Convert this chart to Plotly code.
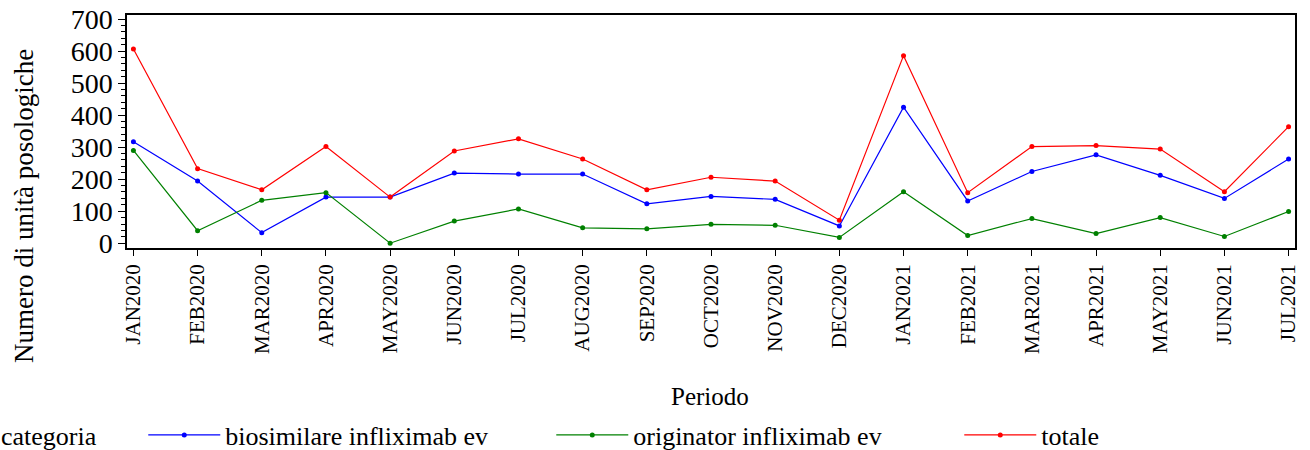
import plotly.graph_objects as go

periodi = ["JAN2020", "FEB2020", "MAR2020", "APR2020", "MAY2020", "JUN2020", "JUL2020",
           "AUG2020", "SEP2020", "OCT2020", "NOV2020", "DEC2020", "JAN2021", "FEB2021",
           "MAR2021", "APR2021", "MAY2021", "JUN2021", "JUL2021"]

biosimilare = [317, 194, 33, 144, 144, 219, 216, 216, 123, 146, 137, 54, 425, 132,
               224, 276, 212, 140, 263]
originator = [290, 39, 134, 158, 0, 69, 107, 48, 45, 59, 56, 18, 161, 24,
              77, 30, 80, 21, 99]
totale = [607, 233, 167, 302, 144, 288, 326, 263, 167, 206, 194, 72, 586, 158,
          302, 305, 294, 161, 364]

series = [
    ("biosimilare infliximab ev", biosimilare, "#0000ff"),
    ("originator infliximab ev", originator, "#008000"),
    ("totale", totale, "#ff0000"),
]

FONT = "Liberation Serif"

def f(size):
    return dict(family=FONT, size=size, color="black")

fig = go.Figure()
for name, vals, col in series:
    fig.add_trace(go.Scatter(
        x=periodi, y=vals, name=name, mode="lines+markers",
        line=dict(color=col, width=1.2),
        marker=dict(color=col, size=5, symbol="circle"),
    ))

W, H = 1310, 450
L, R, T, B = 127, 15, 15, 202
PW = W - L - R
PH = H - T - B
BOT = H - B

fig.update_layout(
    width=W, height=H,
    margin=dict(l=L, r=R, t=T, b=B, autoexpand=False),
    paper_bgcolor="white", plot_bgcolor="white",
    font=f(22),
    showlegend=True,
    legend=dict(
        orientation="h", x=(-1 - L) / PW, xanchor="left",
        y=-(435 - BOT) / PH, yanchor="middle",
        title=dict(text="categoria" + "\u00a0" * 6, side="left", font=f(26)),
        font=f(26), entrywidth=321, entrywidthmode="pixels",
        itemwidth=72, tracegroupgap=0, bgcolor="rgba(0,0,0,0)",
    ),
    xaxis=dict(
        type="category", range=[-0.1, 18.1], automargin=False,
        showline=True, linecolor="black", linewidth=1.5, mirror=True,
        ticks="outside", ticklen=6, tickcolor="black", tickwidth=1,
        tickangle=-90, tickfont=f(21), showgrid=False, zeroline=False,
        ticklabeloverflow="allow",
    ),
    yaxis=dict(
        range=[-15, 713], tickvals=[0, 100, 200, 300, 400, 500, 600, 700],
        automargin=False, ticklabeloverflow="allow",
        showline=True, linecolor="black", linewidth=1.5, mirror=True,
        ticks="outside", ticklen=7, tickcolor="black", tickwidth=1,
        minor=dict(dtick=20, ticks="outside", ticklen=4, tickcolor="black"),
        tickfont=f(28), showgrid=False, zeroline=False,
    ),
    annotations=[
        dict(text="Numero di unità posologiche", textangle=-90,
             x=(24 - L) / PW, y=(BOT - 206) / PH,
             xref="paper", yref="paper", showarrow=False, font=f(27),
             xanchor="center", yanchor="middle"),
        dict(text="Periodo", x=(710 - L) / PW, y=-(396 - BOT) / PH,
             xref="paper", yref="paper", showarrow=False, font=f(25),
             xanchor="center", yanchor="middle"),
    ],
)

fig.write_html(
    "out.html",
    config={"displayModeBar": False},
    post_script="document.body.style.margin='0px'; document.body.style.overflow='hidden';",
)
